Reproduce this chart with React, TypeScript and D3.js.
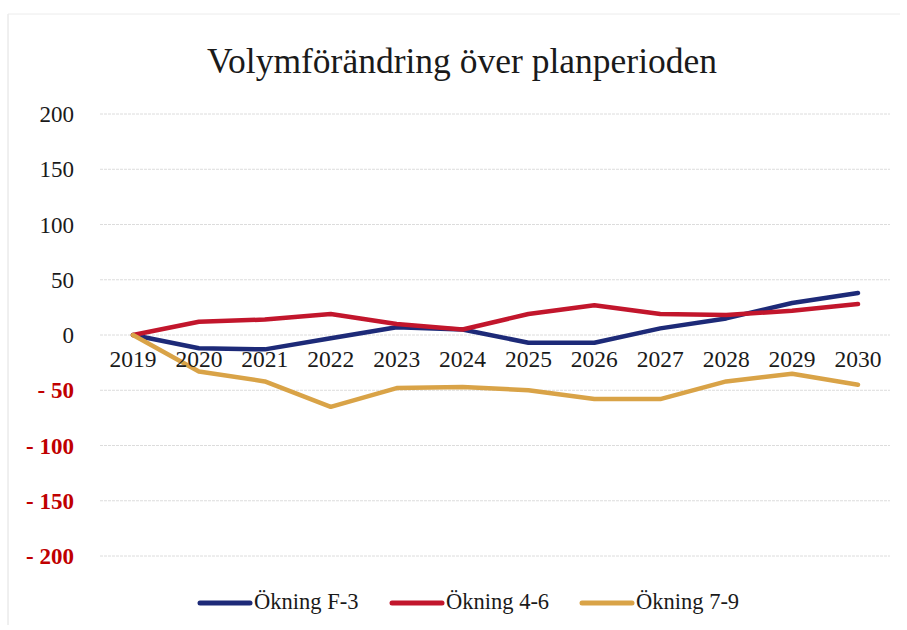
import * as d3 from 'd3'

const years = ['2019', '2020', '2021', '2022', '2023', '2024', '2025', '2026', '2027', '2028', '2029', '2030']
const okningF3 = [0, -12, -13, -3, 7, 5, -7, -7, 6, 15, 29, 38]
const okning46 = [0, 12, 14, 19, 10, 5, 19, 27, 19, 18, 22, 28]
const okning79 = [0, -33, -42, -65, -48, -47, -50, -58, -58, -42, -35, -45]
const yTicks = [200, 150, 100, 50, 0, -50, -100, -150, -200]

const seriesList = [
  { name: 'Ökning F-3', values: okningF3, color: '#1d2a78' },
  { name: 'Ökning 4-6', values: okning46, color: '#c2162c' },
  { name: 'Ökning 7-9', values: okning79, color: '#d9a347' },
]

const W = 907
const H = 630
const FONT = '"Liberation Serif", "DejaVu Serif", serif'

export default function App() {
  const x = d3.scalePoint<string>().domain(years).range([133, 858])
  const y = d3.scaleLinear().domain([-200, 200]).range([556, 114])

  const line = d3.line<number>()
    .x((_, i) => x(years[i]) as number)
    .y(d => y(d))

  const legendX = [200, 392, 582]

  return (
    <svg width={W} height={H} style={{ position: 'absolute', left: 0, top: 0, background: '#fff' }} fontFamily={FONT}>
      <rect x={0} y={0} width={W} height={H} fill="#fff" />
      <line x1={8} y1={14} x2={8} y2={625} stroke="#e0e0e0" />
      <line x1={8} y1={14} x2={900} y2={14} stroke="#ececec" />

      <text x={462} y={73} textAnchor="middle" fontSize={35.5} fill="#1a1a1a">
        Volymförändring över planperioden
      </text>

      {/* grid */}
      {yTicks.map(t => (
        <line key={`g${t}`} x1={100} x2={890} y1={y(t)} y2={y(t)} stroke="#dcdcdc" strokeWidth={1} strokeDasharray="3,1" />
      ))}

      {/* y labels */}
      {yTicks.map(t => (
        <text key={`y${t}`} x={74} y={y(t) + 8} textAnchor="end" fontSize={23}
          fill={t < 0 ? '#c00000' : '#1a1a1a'} fontWeight={t < 0 ? 'bold' : 'normal'}>
          {t < 0 ? `- ${Math.abs(t)}` : t}
        </text>
      ))}

      {/* lines */}
      {seriesList.map(s => (
        <path key={s.name} d={line(s.values) ?? ''} fill="none" stroke={s.color}
          strokeWidth={4.5} strokeLinejoin="round" strokeLinecap="round" />
      ))}

      {/* x labels */}
      {years.map(yr => (
        <text key={yr} x={x(yr)} y={y(0) + 32} textAnchor="middle" fontSize={23.5} fill="#1a1a1a">
          {yr}
        </text>
      ))}

      {/* legend */}
      {seriesList.map((s, i) => (
        <g key={`l${s.name}`}>
          <line x1={legendX[i]} x2={legendX[i] + 50} y1={603} y2={603} stroke={s.color} strokeWidth={5} strokeLinecap="round" />
          <text x={legendX[i] + 54} y={609} fontSize={22.5} fill="#1a1a1a">{s.name}</text>
        </g>
      ))}
    </svg>
  )
}
